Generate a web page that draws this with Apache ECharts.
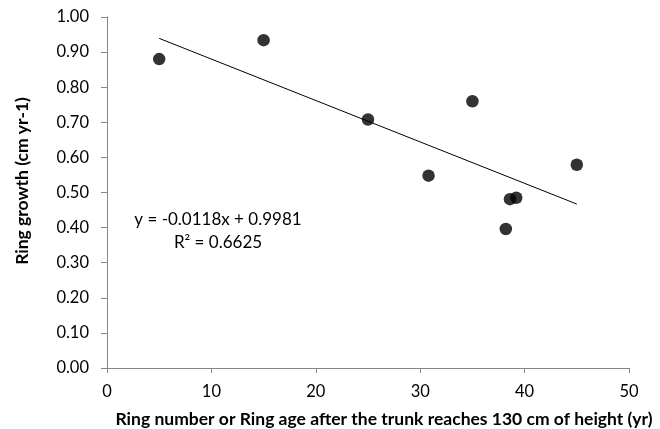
<!DOCTYPE html>
<html>
<head>
<meta charset="utf-8">
<script src="https://cdn.jsdelivr.net/npm/echarts@6/dist/echarts.min.js"></script>
<style>
html,body{margin:0;padding:0;background:#fff;}
#chart{width:660px;height:429px;}
</style>
</head>
<body>
<div id="chart"></div>
<script>
// Data
const ringAge = [5, 15, 25, 35, 30.8, 45, 38.6, 39.2, 38.2];
const ringGrowth = [0.88, 0.934, 0.708, 0.76, 0.548, 0.579, 0.481, 0.485, 0.396];
const trendSlope = -0.0118;
const trendIntercept = 0.9981;
const trendRange = [5, 45];
const equationText = 'y = -0.0118x + 0.9981';
const r2Text = 'R² = 0.6625';
const xTitle = 'Ring number or Ring age after the trunk reaches 130 cm of height (yr)';
const yTitle = 'Ring growth (cm yr-1)';

const FONT = 'Lato';
const scatterData = ringAge.map((x, i) => [x, ringGrowth[i]]);
const trendData = trendRange.map(x => [x, trendSlope * x + trendIntercept]);

const chart = echarts.init(document.getElementById('chart'), null, {renderer: 'canvas'});
const axisLineStyle = {color: '#868686', width: 1};
chart.setOption({
  animation: false,
  backgroundColor: '#fff',
  grid: {left: 107, right: 31, top: 17, bottom: 61, containLabel: false},
  xAxis: {
    type: 'value', min: 0, max: 50, interval: 10,
    axisLine: {show: true, lineStyle: axisLineStyle},
    axisTick: {show: true, length: 5, lineStyle: axisLineStyle},
    splitLine: {show: false},
    axisLabel: {fontFamily: FONT, fontSize: 16.5, color: '#000', margin: 15}
  },
  yAxis: {
    type: 'value', min: 0, max: 1, interval: 0.1,
    axisLine: {show: true, lineStyle: axisLineStyle},
    axisTick: {show: true, length: 6, lineStyle: axisLineStyle},
    splitLine: {show: false},
    axisLabel: {fontFamily: FONT, fontSize: 16.5, color: '#000', margin: 18,
      formatter: v => v.toFixed(2)}
  },
  graphic: [
    {type: 'text',
      style: {text: xTitle, font: 'bold 17.5px ' + FONT, fill: '#000', textAlign: 'center', textVerticalAlign: 'middle'},
      x: 384, y: 419},
    {type: 'text', rotation: Math.PI / 2,
      style: {text: yTitle, font: 'bold 17.5px ' + FONT, fill: '#000', textAlign: 'center', textVerticalAlign: 'middle'},
      x: 22, y: 181},
    {type: 'text',
      style: {text: equationText + '\n' + r2Text, font: '17px ' + FONT, fill: '#000', textAlign: 'center', textVerticalAlign: 'middle', lineHeight: 23},
      x: 218, y: 231}
  ],
  series: [
    {type: 'scatter', data: scatterData, symbol: 'circle', symbolSize: 12.5,
      itemStyle: {color: '#000'}},
    {type: 'line', data: trendData, symbol: 'none', lineStyle: {color: '#000', width: 1}, z: 1}
  ]
});
</script>
</body>
</html>
